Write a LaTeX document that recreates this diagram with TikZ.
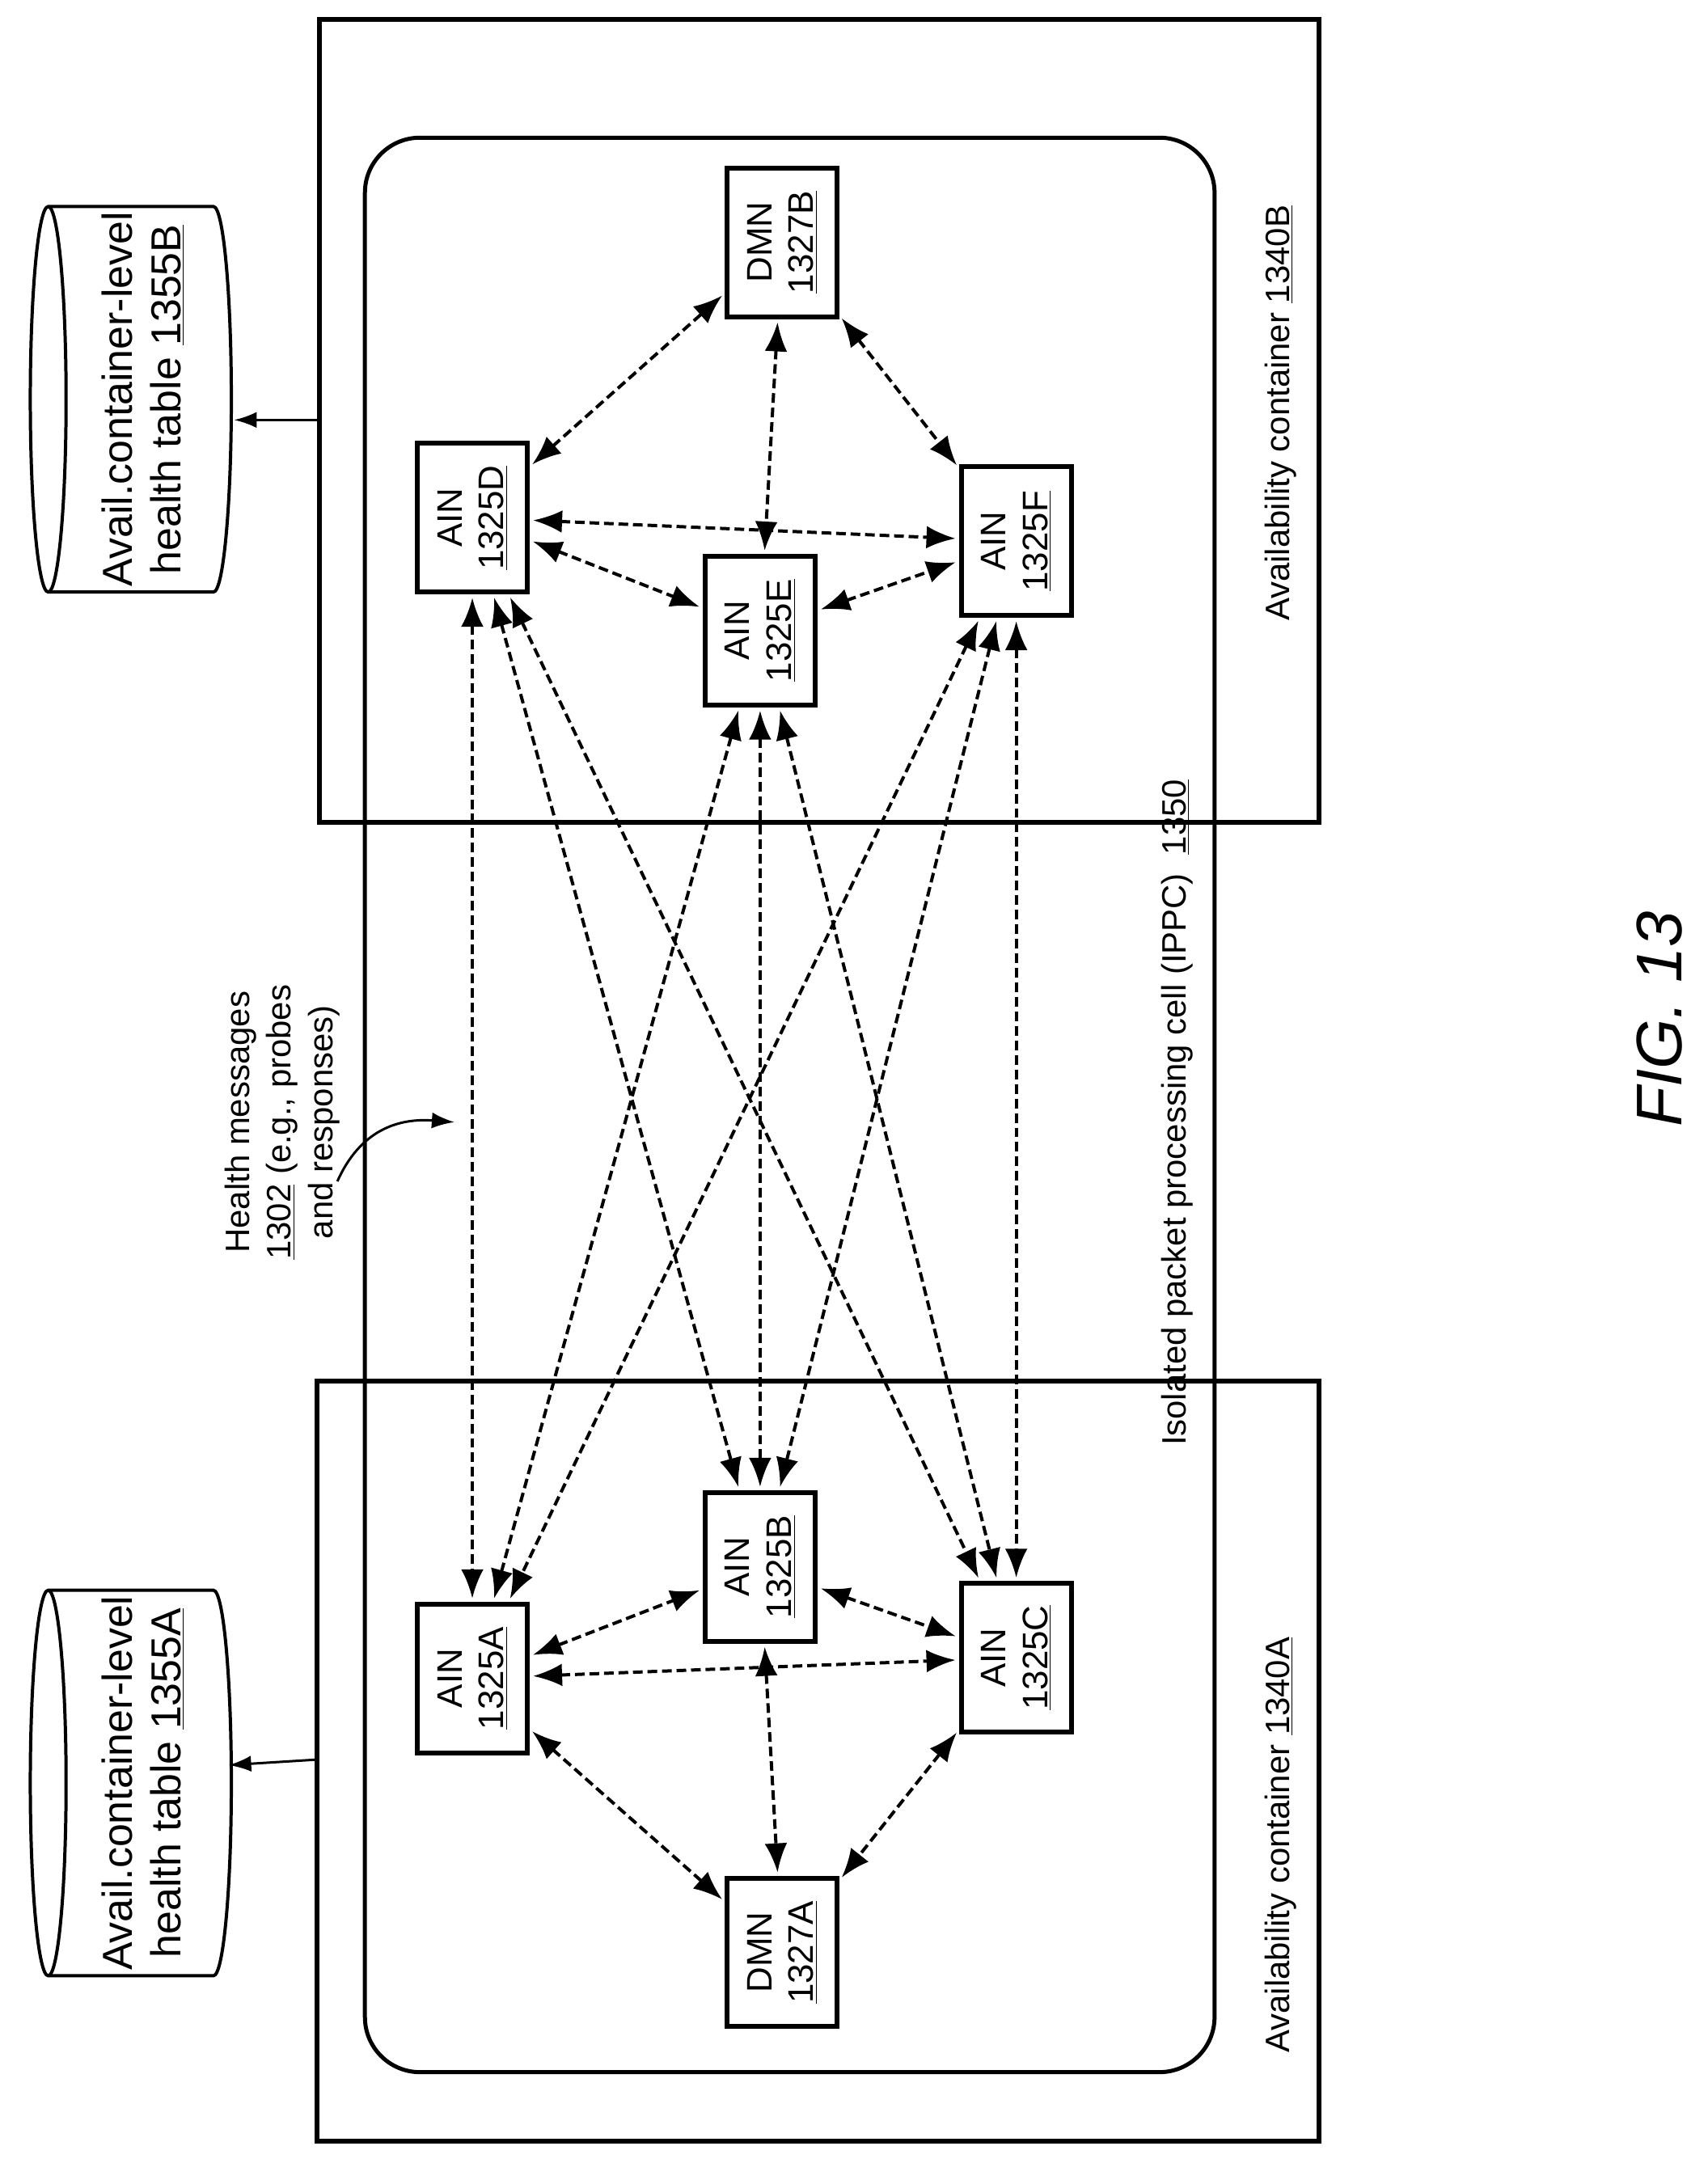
\documentclass[tikz,border=0pt]{standalone}
\usepackage{fontspec}
\setmainfont{Liberation Sans}
\usetikzlibrary{arrows.meta}
\tikzset{
  box/.style={draw, line width=3pt, rotate=90, minimum width=3.24cm, minimum height=2.4cm, inner sep=0pt, align=center, font=\fontsize{22}{26}\selectfont},
  link/.style={dash pattern=on 6pt off 3pt, line width=2pt, {Latex[length=18pt,width=14pt]}-{Latex[length=18pt,width=14pt]}, shorten <=2pt, shorten >=2pt},
  lbl/.style={rotate=90, font=\fontsize{21}{26}\selectfont, align=center},
}
\begin{document}
\begin{tikzpicture}[x=0.03cm, y=-0.03cm]
    \useasboundingbox (0,0) rectangle (1240,1571);
    \draw[line width=3pt] (232,14) rectangle (958,597);  %Container B
    \draw[line width=3pt] (230,1003) rectangle (958,1555);  %Container A
    \draw[line width=2.5pt, rounded corners=1.2cm] (265,100) rectangle (882,1505);  %IPPC
    \node[lbl] (ippc) at (855,808) {Isolated packet processing cell (IPPC)\ \ \underline{1350}};
    \node[lbl] (acB) at (930,300) {Availability container \underline{1340B}};
    \node[lbl] (acA) at (930,1340) {Availability container \underline{1340A}};
    \coordinate (cB) at (232,305);
    \coordinate (cA) at (230,1278);
    % health tables
    \foreach \nm/\yc/\tx in {tabB/290/1355B, tabA/1295/1355A}
    {
      \draw[line width=2pt] (100,\yc-140) -- (35,\yc-140) arc[start angle=90, end angle=270, x radius=0.39cm, y radius=4.2cm] -- (155,\yc+140) arc[start angle=-90, end angle=90, x radius=0.39cm, y radius=4.2cm] -- cycle;
      \draw[line width=2pt] (35,\yc-140) arc[start angle=90, end angle=-90, x radius=0.39cm, y radius=4.2cm];
      \node[lbl, font=\fontsize{26}{30}\selectfont] (\nm) at (104,\yc) {Avail.container-level\\health table \underline{\tx}};
    }
    \draw[line width=1.5pt, -{Latex[length=14pt,width=10pt]}] (cB) -- (170,305);
    \draw[line width=1.5pt, -{Latex[length=14pt,width=10pt]}] (cA) -- (166,1282);
    % nodes
    \node[box] (D) at (343,376) {AIN\\\underline{1325D}};
    \node[box] (DB) at (568,176) {DMN\\\underline{1327B}};
    \node[box] (E) at (552,458) {AIN\\\underline{1325E}};
    \node[box] (F) at (738,393) {AIN\\\underline{1325F}};
    \node[box] (A) at (343,1219) {AIN\\\underline{1325A}};
    \node[box] (B) at (552,1138) {AIN\\\underline{1325B}};
    \node[box] (C) at (738,1204) {AIN\\\underline{1325C}};
    \node[box] (DA) at (568,1418) {DMN\\\underline{1327A}};
    % health messages
    \node[lbl] (hm) at (205,815) {Health messages\\\underline{1302} (e.g., probes\\and responses)};
    \draw[line width=1.5pt, -{Latex[length=14pt,width=10pt]}] (245,858) .. controls (262,820) and (290,812) .. (330,815);
    % links within containers
    \foreach \a/\b in {D/DB, D/E, D/F, E/F, DB/E, DB/F, A/B, A/C, B/C, A/DA, B/DA, C/DA}
      \draw[link] (\a) -- (\b);
    % links across
    \foreach \a/\b in {D/A, D/B, D/C, E/A, E/B, E/C, F/A, F/B, F/C}
      \draw[link] (\a) -- (\b);
    \node[rotate=90, font=\fontsize{40}{44}\selectfont\itshape] (fig) at (1205,740) {FIG. 13};
\end{tikzpicture}
\end{document}
